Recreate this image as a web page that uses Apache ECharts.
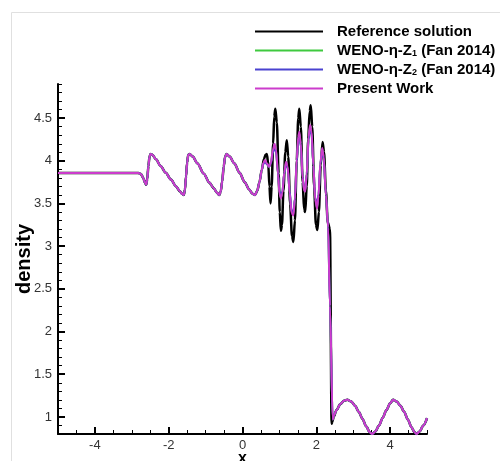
<!DOCTYPE html>
<html>
<head>
<meta charset="utf-8">
<title>density</title>
<script src="https://cdn.jsdelivr.net/npm/echarts@6/dist/echarts.min.js"></script>
<style>
html,body{margin:0;padding:0;background:#fff;}
#lineChart{width:500px;height:461px;}
</style>
</head>
<body>
<div id="lineChart"></div>
<script>
// 图例名称
var seriesNames = ['Reference solution', 'WENO-η-Z1 (Fan 2014)', 'WENO-η-Z2 (Fan 2014)', 'Present Work'];
// 坐标轴刻度
var xTicks = [-4, -2, 0, 2, 4];
var yTicks = [1, 1.5, 2, 2.5, 3, 3.5, 4, 4.5];

// 平滑段 (x<=0.52) 四条曲线共用
var smoothX = [-5, -2.82, -2.75, -2.69, -2.64, -2.61, -2.58, -2.55, -2.52, -2.49, -2.44, -2.35, -2.22, -2.08, -1.94, -1.80, -1.70, -1.63, -1.59, -1.56, -1.53, -1.50, -1.47, -1.43, -1.35, -1.22, -1.05, -0.90, -0.78, -0.69, -0.63, -0.59, -0.55, -0.51, -0.47, -0.43, -0.35, -0.22, -0.08, 0.06, 0.18, 0.27, 0.34, 0.40, 0.46, 0.52];
var smoothY = [3.857, 3.857, 3.845, 3.80, 3.74, 3.72, 3.79, 3.94, 4.05, 4.08, 4.07, 4.02, 3.94, 3.86, 3.78, 3.70, 3.645, 3.61, 3.60, 3.66, 3.82, 3.98, 4.07, 4.08, 4.05, 3.97, 3.85, 3.745, 3.68, 3.625, 3.60, 3.64, 3.76, 3.93, 4.05, 4.08, 4.05, 3.97, 3.86, 3.75, 3.665, 3.615, 3.60, 3.65, 3.75, 3.89];

// 参考解 高频段+激波
var refHfX = [0.58, 0.625, 0.66, 0.70, 0.73, 0.76, 0.79, 0.83, 0.86, 0.89, 0.93, 0.98, 1.01, 1.04, 1.07, 1.11, 1.16, 1.20, 1.24, 1.29, 1.34, 1.38, 1.42, 1.47, 1.51, 1.54, 1.58, 1.63, 1.67, 1.70, 1.74, 1.78, 1.82, 1.85, 1.89, 1.94, 1.99, 2.03, 2.07, 2.12, 2.17, 2.21, 2.26, 2.31, 2.37, 2.415, 2.44, 2.47];
var refHfY = [4.02, 4.07, 4.08, 3.95, 3.70, 3.50, 3.70, 4.20, 4.52, 4.61, 4.45, 3.85, 3.40, 3.18, 3.25, 3.65, 4.10, 4.24, 4.05, 3.50, 3.12, 3.05, 3.30, 4.00, 4.50, 4.61, 4.40, 3.75, 3.43, 3.40, 3.70, 4.25, 4.58, 4.65, 4.40, 3.70, 3.25, 3.19, 3.40, 3.95, 4.22, 4.10, 3.65, 3.28, 3.20, 0.92, 0.95, 1.00];

// 数值格式 高频段+激波
var presHfX = [0.56, 0.61, 0.66, 0.72, 0.77, 0.82, 0.87, 0.91, 0.96, 1.00, 1.04, 1.08, 1.13, 1.18, 1.22, 1.28, 1.33, 1.38, 1.42, 1.47, 1.51, 1.54, 1.58, 1.63, 1.67, 1.70, 1.74, 1.79, 1.83, 1.87, 1.92, 1.97, 2.02, 2.06, 2.11, 2.16, 2.20, 2.26, 2.32, 2.37, 2.445, 2.48];
var z1HfY = [3.97, 4.00, 3.97, 3.93, 3.98, 4.11, 4.18, 4.12, 3.85, 3.63, 3.57, 3.63, 3.86, 3.98, 3.93, 3.63, 3.40, 3.38, 3.55, 4.01, 4.26, 4.32, 4.19, 3.80, 3.66, 3.65, 3.85, 4.26, 4.40, 4.33, 3.95, 3.56, 3.45, 3.60, 3.97, 4.14, 4.04, 3.60, 3.22, 2.30, 0.97, 1.02];
var z2HfY = [3.96, 3.99, 3.96, 3.93, 3.97, 4.09, 4.16, 4.10, 3.86, 3.65, 3.59, 3.64, 3.85, 3.96, 3.92, 3.64, 3.42, 3.40, 3.56, 3.99, 4.24, 4.30, 4.17, 3.81, 3.67, 3.66, 3.84, 4.24, 4.38, 4.31, 3.95, 3.57, 3.47, 3.61, 3.96, 4.12, 4.03, 3.60, 3.23, 2.30, 0.97, 1.02];
var presHfY = [3.97, 4.01, 3.97, 3.93, 3.98, 4.12, 4.20, 4.13, 3.85, 3.62, 3.56, 3.62, 3.86, 3.99, 3.94, 3.62, 3.39, 3.36, 3.55, 4.02, 4.28, 4.34, 4.20, 3.80, 3.65, 3.64, 3.85, 4.28, 4.42, 4.35, 3.95, 3.55, 3.44, 3.60, 3.98, 4.15, 4.05, 3.60, 3.22, 2.30, 0.97, 1.02];

// 激波后 共用
var postX = [2.55, 2.65, 2.75, 2.84, 2.95, 3.05, 3.15, 3.25, 3.35, 3.45, 3.51, 3.60, 3.70, 3.80, 3.90, 4.00, 4.08, 4.18, 4.28, 4.38, 4.48, 4.58, 4.66, 4.72, 4.80, 4.90, 5.00];
var postY = [1.08, 1.15, 1.19, 1.20, 1.18, 1.13, 1.06, 0.98, 0.89, 0.82, 0.80, 0.83, 0.90, 0.99, 1.08, 1.16, 1.20, 1.18, 1.13, 1.06, 0.97, 0.88, 0.82, 0.80, 0.83, 0.90, 0.985];

var FONT = 'Liberation Sans, Arial, sans-serif';

var page = {
	init: function () {
		this.loadLineChart();
	},
	// x,y 数组拼成点
	toPairs: function (xs, ys) {
		var out = [];
		for (var i = 0; i < xs.length; i++) {
			out.push([xs[i], ys[i]]);
		}
		return out;
	},
	build: function (hfX, hfY) {
		return this.toPairs(smoothX, smoothY)
			.concat(this.toPairs(hfX, hfY))
			.concat(this.toPairs(postX, postY));
	},
	makeSeries: function (name, data, color, width) {
		return {
			name: name,
			type: 'line',
			data: data,
			symbol: 'none',
			smooth: 0.3,
			smoothMonotone: 'x',
			lineStyle: { color: color, width: width },
			itemStyle: { color: color }
		};
	},
	loadLineChart: function () {
		var myChart = echarts.init(document.getElementById('lineChart'));
		var _this = this;

		myChart.setOption({
			animation: false,
			backgroundColor: '#fff',
			graphic: [{
				type: 'rect',
				silent: true,
				shape: { x: 11.5, y: 12.5, width: 600, height: 600 },
				style: { fill: 'none', stroke: '#e0e0e0', lineWidth: 1 }
			}],
			legend: {
				orient: 'vertical',
				left: 250,
				top: 19,
				padding: 5,
				icon: 'rect',
				itemWidth: 68,
				itemHeight: 2,
				itemGap: 4,
				data: seriesNames,
				formatter: function (name) {
					return name.replace(/Z(\d)/, 'Z{sub|$1}');
				},
				textStyle: {
					color: '#000',
					fontSize: 15,
					fontWeight: 'bold',
					fontFamily: FONT,
					padding: [0, 0, 0, 9],
					rich: {
						sub: { fontSize: 9, fontWeight: 'bold', fontFamily: FONT, color: '#000', verticalAlign: 'bottom', padding: [6, 0, 0, 0] }
					}
				}
			},
			// 不自动收缩绘图区
			grid: { left: 58, right: 73, top: 84, bottom: 27, containLabel: false, outerBoundsMode: 'none' },
			xAxis: [{
				type: 'value',
				min: -5,
				max: 5,
				name: 'x',
				nameLocation: 'middle',
				nameGap: 17,
				nameMoveOverlap: false,
				nameTextStyle: { color: '#000', fontSize: 16, fontWeight: 'bold', fontFamily: FONT, verticalAlign: 'top' },
				axisLine: { onZero: false, lineStyle: { color: '#000', width: 2 } },
				axisTick: { inside: true, length: 7, customValues: xTicks, lineStyle: { color: '#000', width: 2 } },
				axisLabel: { customValues: xTicks, color: '#333', fontSize: 13, fontFamily: FONT, margin: 5 },
				splitLine: { show: false }
			}, {
				// 小刻度
				type: 'value',
				position: 'bottom',
				min: -5,
				max: 5,
				interval: 0.5,
				axisLine: { show: false, onZero: false },
				axisTick: { inside: true, length: 4, lineStyle: { color: '#000', width: 1 } },
				axisLabel: { show: false },
				splitLine: { show: false }
			}],
			yAxis: [{
				type: 'value',
				min: 0.8,
				max: 4.9,
				name: 'density',
				nameLocation: 'middle',
				nameGap: 24,
				nameMoveOverlap: false,
				nameTextStyle: { color: '#000', fontSize: 20, fontWeight: 'bold', fontFamily: FONT, verticalAlign: 'bottom' },
				axisLine: { show: true, onZero: false, lineStyle: { color: '#000', width: 2 } },
				axisTick: { show: true, inside: true, length: 7, customValues: yTicks, lineStyle: { color: '#000', width: 2 } },
				axisLabel: { customValues: yTicks, color: '#333', fontSize: 13, fontFamily: FONT, margin: 6 },
				splitLine: { show: false }
			}, {
				// 小刻度
				type: 'value',
				position: 'left',
				min: 0.8,
				max: 4.9,
				interval: 0.1,
				axisLine: { show: false, onZero: false },
				axisTick: { show: true, inside: true, length: 4, lineStyle: { color: '#000', width: 1 } },
				axisLabel: { show: false },
				splitLine: { show: false }
			}],
			series: [
				_this.makeSeries(seriesNames[0], _this.build(refHfX, refHfY), '#000000', 2.5),
				_this.makeSeries(seriesNames[1], _this.build(presHfX, z1HfY), '#3fc93f', 2),
				_this.makeSeries(seriesNames[2], _this.build(presHfX, z2HfY), '#4a42d0', 2),
				_this.makeSeries(seriesNames[3], _this.build(presHfX, presHfY), '#cc3ccc', 2)
			]
		});
	}
};

//初始化
page.init();
</script>
</body>
</html>
